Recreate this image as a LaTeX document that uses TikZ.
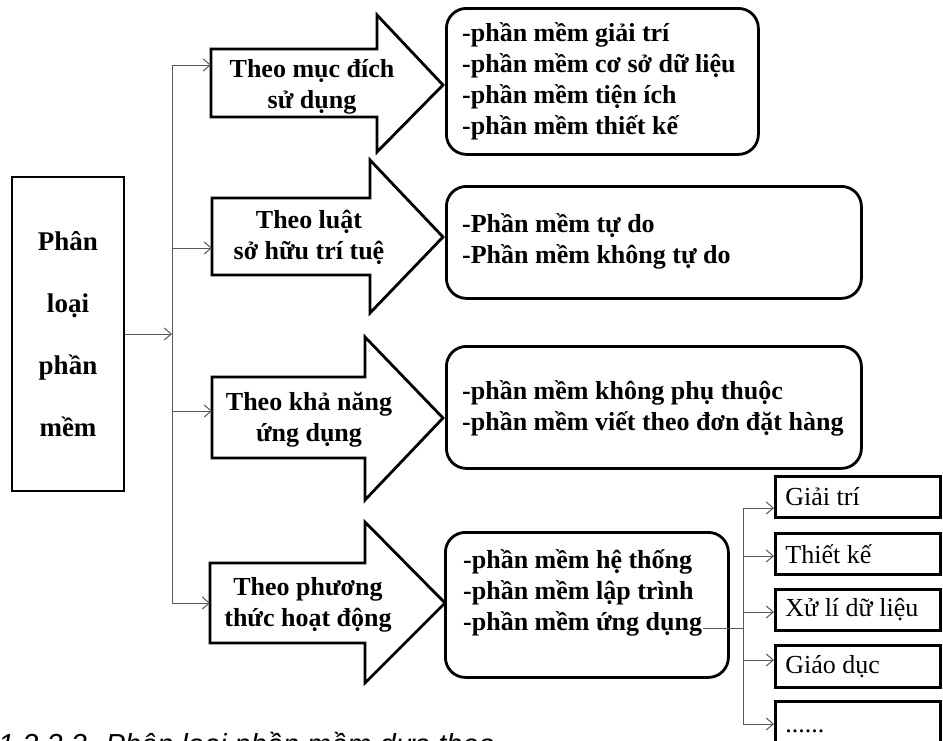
\documentclass[tikz,border=0pt]{standalone}
\usepackage{fontspec}
\setmainfont{Liberation Serif}
\newfontfamily\capfont{Liberation Sans}
\usetikzlibrary{arrows.meta}

\tikzset{
  shapeline/.style={line width=2.8pt, line join=miter},
  link/.style={line width=1pt, draw=black!65, -{Straight Barb[length=7pt,width=12pt]}},
  plainlink/.style={line width=1pt, draw=black!65},
  arrowtxt/.style={font=\bfseries\fontsize{26}{31}\selectfont, inner sep=0pt, align=flush center},
  itemtxt/.style={font=\bfseries\fontsize{26}{31}\selectfont, inner sep=0pt, align=flush left, anchor=west},
  roundbox/.style={shapeline, draw, rounded corners=20pt, inner sep=0pt, anchor=north west},
  leafbox/.style={shapeline, draw, anchor=north west, text width=145pt, inner xsep=10pt,
                  inner ysep=0pt, align=flush left, font=\fontsize{26}{30}\selectfont},
}

\begin{document}
\begin{tikzpicture}[x=1pt, y=-1pt]
\useasboundingbox (0,0) rectangle (943,740);

% root box
\node[shapeline, draw, minimum width=112, minimum height=314, align=flush center,
      font=\bfseries\fontsize{27}{62}\selectfont] (root) at (68,334) {Phân\\loại\\phần\\mềm};

% block arrows
\draw[shapeline] (211,49) -- (377,49) -- (377,15) -- (443,85) -- (377,152) -- (377,117) -- (211,117) -- cycle;
\draw[shapeline] (212,198) -- (370,198) -- (370,160) -- (443,237) -- (370,313) -- (370,275) -- (212,275) -- cycle;
\draw[shapeline] (212,377) -- (365,377) -- (365,337) -- (443,418) -- (365,500) -- (365,458) -- (212,458) -- cycle;
\draw[shapeline] (210,563) -- (365,563) -- (365,522) -- (445,603) -- (365,683) -- (365,643) -- (210,643) -- cycle;

\coordinate (t1) at (211,65);
\coordinate (t2) at (212,248);
\coordinate (t3) at (212,411);
\coordinate (t4) at (210,603);

\node[arrowtxt] (a1) at (312,87) {Theo mục đích\\sử dụng};
\node[arrowtxt] (a2) at (309,237) {Theo luật\\sở hữu trí tuệ};
\node[arrowtxt] (a3) at (309,420) {Theo khả năng\\ứng dụng};
\node[arrowtxt] (a4) at (308,605) {Theo phương\\thức hoạt động};

% spine from the root box to the four arrows
\coordinate (hub) at (172,334);
\draw[link] (root.east |- hub) -- (hub);
\draw[plainlink] (hub |- t1) -- (hub |- t4);
\draw[link] (hub |- t1) -- (t1);
\draw[link] (hub |- t2) -- (t2);
\draw[link] (hub |- t3) -- (t3);
\draw[link] (hub |- t4) -- (t4);

% rounded boxes
\node[roundbox, minimum width=312, minimum height=146] (b1) at (445,7) {};
\node[roundbox, minimum width=415, minimum height=112] (b2) at (445,185) {};
\node[roundbox, minimum width=415, minimum height=122] (b3) at (445,345) {};
\node[roundbox, minimum width=283, minimum height=145] (b4) at (444,531) {};

\node[itemtxt] (l1) at (462,81) {-phần mềm giải trí\\-phần mềm cơ sở dữ liệu\\-phần mềm tiện ích\\-phần mềm thiết kế};
\node[itemtxt] (l2) at (462,241) {-Phần mềm tự do\\-Phần mềm không tự do};
\node[itemtxt] (l3) at (462,408) {-phần mềm không phụ thuộc\\-phần mềm viết theo đơn đặt hàng};
\node[itemtxt] (l4) at (463,593) {-phần mềm hệ thống\\-phần mềm lập trình\\-phần mềm ứng dụng};

% application software kinds
\node[leafbox, minimum height=41] (g1) at (774,475) {Giải trí};
\node[leafbox, minimum height=41] (g2) at (774,532) {Thiết kế};
\node[leafbox, minimum height=41] (g3) at (774,588) {Xử lí dữ liệu};
\node[leafbox, minimum height=42] (g4) at (774,644) {Giáo dục};
\node[leafbox, minimum height=60] (g5) at (774,700) {......};

\coordinate (tap) at (703,628);
\coordinate (fork) at (743,628);
\coordinate (e1) at (774,508);
\coordinate (e2) at (774,556);
\coordinate (e3) at (774,612);
\coordinate (e4) at (774,660);
\coordinate (e5) at (774,724);
\draw[plainlink] (tap) -- (fork);
\draw[plainlink] (fork |- e1) -- (fork |- e5);
\draw[link] (fork |- e1) -- (e1);
\draw[link] (fork |- e2) -- (e2);
\draw[link] (fork |- e3) -- (e3);
\draw[link] (fork |- e4) -- (e4);
\draw[link] (fork |- e5) -- (e5);

% caption, cut by the lower edge
\begin{scope}
\clip (0,0) rectangle (943,740);
\node[font=\capfont\itshape\fontsize{29}{34}\selectfont, anchor=base west, inner sep=0pt]
  (cap) at (-2,754) {1.2.2.2. Phân loại phần mềm dựa theo};
\end{scope}
\end{tikzpicture}
\end{document}
